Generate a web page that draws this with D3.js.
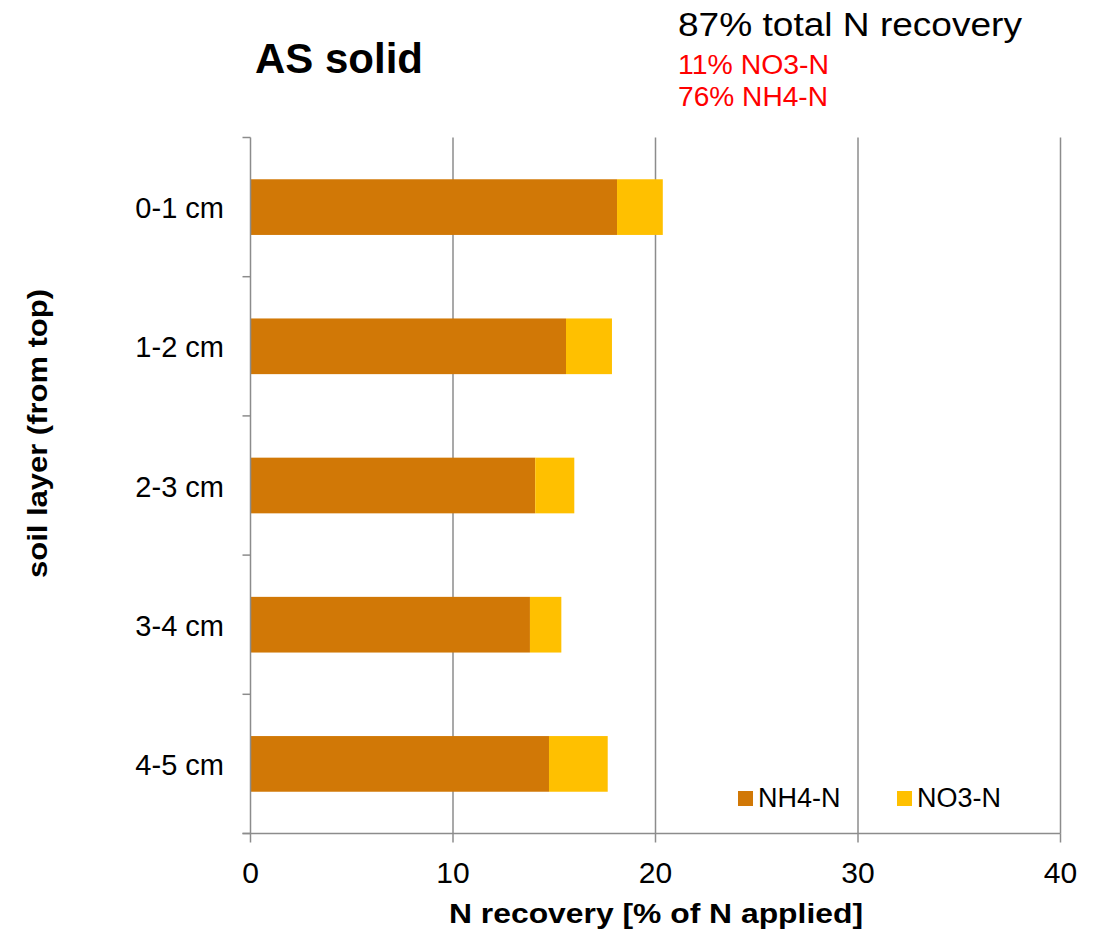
<!DOCTYPE html>
<html><head><meta charset="utf-8">
<script src="https://cdn.jsdelivr.net/npm/d3@7"></script>
<style>body{margin:0;background:#fff}svg{display:block;font-family:"Liberation Sans",Arial,sans-serif}</style>
</head><body>
<script>
const categories = ["0-1 cm","1-2 cm","2-3 cm","3-4 cm","4-5 cm"];
const nh4 = [18.1, 15.58, 14.06, 13.8, 14.74];
const no3 = [2.26, 2.27, 1.93, 1.55, 2.9];
const seriesNames = ["NH4-N","NO3-N"];
const seriesColors = ["#D17806","#FFC000"];
const xTicks = [0,10,20,30,40];

const W = 1106, H = 934;
const svg = d3.select("body").append("svg").attr("width",W).attr("height",H);
const m = {left:250.5, right:1060.5, top:137.5, bottom:833.5};
const x = d3.scaleLinear().domain([0,40]).range([m.left,m.right]);
const y = d3.scaleBand().domain(categories).range([m.top,m.bottom]).paddingInner(0.6).paddingOuter(0.3);
const grey = "#8c8c8c";

// gridlines
svg.append("g").selectAll("line").data(xTicks.slice(1)).join("line")
  .attr("x1",d=>x(d)).attr("x2",d=>x(d)).attr("y1",m.top).attr("y2",m.bottom)
  .attr("stroke",grey).attr("stroke-width",1.5);

// bars
const data = categories.map((c,i)=>({c, a:nh4[i], b:no3[i]}));
const g = svg.append("g");
g.selectAll("rect.nh4").data(data).join("rect").attr("class","nh4")
  .attr("x",x(0)).attr("y",d=>y(d.c)).attr("height",y.bandwidth())
  .attr("width",d=>x(d.a)-x(0)).attr("fill",seriesColors[0]);
g.selectAll("rect.no3").data(data).join("rect").attr("class","no3")
  .attr("x",d=>x(d.a)).attr("y",d=>y(d.c)).attr("height",y.bandwidth())
  .attr("width",d=>x(d.a+d.b)-x(d.a)).attr("fill",seriesColors[1]);

// y axis line and ticks at band boundaries
svg.append("line").attr("x1",m.left).attr("x2",m.left).attr("y1",m.top).attr("y2",m.bottom)
  .attr("stroke",grey).attr("stroke-width",1.5);
const step = (m.bottom-m.top)/categories.length;
const bounds = d3.range(categories.length+1).map(i=>m.top+i*step);
svg.append("g").selectAll("line").data(bounds).join("line")
  .attr("x1",m.left-8).attr("x2",m.left).attr("y1",d=>d).attr("y2",d=>d)
  .attr("stroke",grey).attr("stroke-width",1.5);
// x axis line and ticks
svg.append("line").attr("x1",m.left-8).attr("x2",m.right).attr("y1",m.bottom).attr("y2",m.bottom)
  .attr("stroke",grey).attr("stroke-width",1.5);
svg.append("g").selectAll("line").data(xTicks).join("line")
  .attr("x1",d=>x(d)).attr("x2",d=>x(d)).attr("y1",m.bottom).attr("y2",m.bottom+9)
  .attr("stroke",grey).attr("stroke-width",1.5);

// tick labels
svg.append("g").selectAll("text").data(xTicks).join("text")
  .attr("x",d=>x(d)).attr("y",883).attr("text-anchor","middle")
  .attr("font-size",30).attr("fill","#000").text(d=>d);
svg.append("g").selectAll("text").data(categories).join("text")
  .attr("x",224).attr("y",d=>y(d)+y.bandwidth()/2+11).attr("text-anchor","end")
  .attr("font-size",29).attr("fill","#000").text(d=>d);

// axis titles
svg.append("text").attr("x",449).attr("y",923)
  .attr("font-size",28).attr("font-weight","bold")
  .attr("textLength",414).attr("lengthAdjust","spacingAndGlyphs")
  .text("N recovery [% of N applied]");
svg.append("text").attr("transform","translate(47,578) rotate(-90)")
  .attr("font-size",28).attr("font-weight","bold")
  .attr("textLength",289).attr("lengthAdjust","spacingAndGlyphs")
  .text("soil layer (from top)");

// titles
svg.append("text").attr("x",255).attr("y",73).attr("font-size",42).attr("font-weight","bold").text("AS solid");
svg.append("text").attr("x",678).attr("y",36).attr("font-size",33)
  .attr("textLength",344).attr("lengthAdjust","spacingAndGlyphs").text("87% total N recovery");
svg.append("text").attr("x",678).attr("y",74).attr("font-size",27).attr("fill","#ff0000")
  .attr("textLength",151).attr("lengthAdjust","spacingAndGlyphs").text("11% NO3-N");
svg.append("text").attr("x",678).attr("y",106).attr("font-size",27).attr("fill","#ff0000")
  .attr("textLength",150).attr("lengthAdjust","spacingAndGlyphs").text("76% NH4-N");

// legend
const legX = [738, 897];
const leg = svg.append("g").selectAll("g").data(seriesNames).join("g")
  .attr("transform",(d,i)=>`translate(${legX[i]},791)`);
leg.append("rect").attr("width",15).attr("height",15).attr("fill",(d,i)=>seriesColors[i]);
leg.append("text").attr("x",20).attr("y",16).attr("font-size",27).text(d=>d);
</script>
</body></html>
